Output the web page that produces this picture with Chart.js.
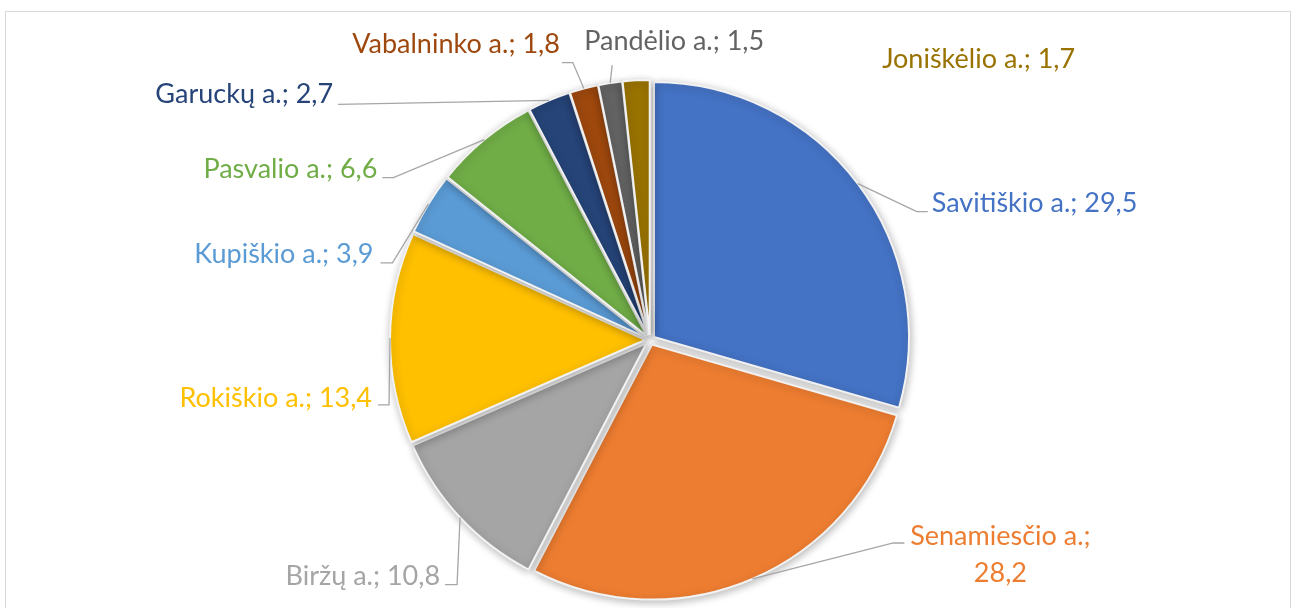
<!DOCTYPE html>
<html>
<head>
<meta charset="utf-8">
<script src="https://cdn.jsdelivr.net/npm/chart.js@4.4.1/dist/chart.umd.min.js"></script>
<style>
  html, body { margin: 0; padding: 0; background: #ffffff; overflow: hidden; }
  #wrap { position: relative; width: 1297px; height: 608px; overflow: hidden; }
  #frame { position: absolute; left: 5px; top: 11px; width: 1286px; height: 700px; border: 1px solid #d9d9d9; box-sizing: border-box; }
  canvas { position: absolute; left: 0; top: 0; }
</style>
</head>
<body>
<div id="wrap">
  <div id="frame"></div>
  <canvas id="c" width="1297" height="608"></canvas>
</div>
<script>
// ---- data ----
const categories = ["Savitiškio a.", "Senamiesčio a.", "Biržų a.", "Rokiškio a.", "Kupiškio a.",
                    "Pasvalio a.", "Garuckų a.", "Vabalninko a.", "Pandėlio a.", "Joniškėlio a."];
const shares = [29.5, 28.2, 10.8, 13.4, 3.9, 6.6, 2.7, 1.8, 1.5, 1.7];
const sliceColors = ["#4472C4", "#ED7D31", "#A5A5A5", "#FFC000", "#5B9BD5",
                     "#70AD47", "#264478", "#9E480E", "#636363", "#997300"];

// ---- style / layout ----
const EXPLODE = 5;      // px each slice is pulled out along its bisector
const RADIUS = 255;
// label offsets relative to the slice's outer-edge mid point
const labelLayout = [
  { leader: [[59, 28], [70, 28]],   align: "left",   tx: 74,   ty: 28,  split: false },
  { leader: [[141, -36], [152, -36]], align: "center", tx: 248, ty: -34, split: true },
  { leader: [[-3, 67], [-15, 67]],  align: "right",  tx: -20,  ty: 67,  split: false },
  { leader: [[-1, 67], [-12, 67]],  align: "right",  tx: -18,  ty: 69,  split: false },
  { leader: [[-36, 59], [-48, 59]], align: "right",  tx: -55,  ty: 59,  split: false },
  { leader: [[-91, 38], [-102, 38]], align: "right", tx: -107, ty: 38,  split: false },
  { leader: [[-211, 4]],            align: "right",  tx: -216, ty: 3,   split: false },
  { leader: [[-11, -26], [-22, -26]], align: "right", tx: -24, ty: -36, split: false },
  { leader: [[2, -18]],             align: "center", tx: 64,   ty: -33, split: false },
  { leader: [],                     align: "left",   tx: 246,  ty: -12, split: false }
];

const FONT = '27px Lato, "Open Sans", sans-serif';
const LINE_H = 37;

function fmt(v) { return v.toFixed(1).replace('.', ','); }

const pieDecor = {
  id: 'pieDecor',
  beforeDatasetsDraw(chart) {
    const ctx = chart.ctx;
    // explode every slice along its bisector (library still draws the arc)
    chart.getDatasetMeta(0).data.forEach(arc => {
      if (arc.__exploded) return;
      const orig = arc.draw;
      arc.draw = function (c, area) {
        const mid = (this.startAngle + this.endAngle) / 2;
        c.save();
        c.translate(Math.cos(mid) * EXPLODE, Math.sin(mid) * EXPLODE);
        orig.call(this, c, area);
        c.restore();
      };
      arc.__exploded = true;
    });
    ctx.save();
    ctx.shadowColor = 'rgba(0,0,0,0.28)';
    ctx.shadowBlur = 9;
    ctx.shadowOffsetX = 1;
    ctx.shadowOffsetY = 2;
  },
  afterDatasetsDraw(chart) {
    const ctx = chart.ctx;
    ctx.restore();
    const meta = chart.getDatasetMeta(0);
    const ds = chart.data.datasets[0];
    ctx.save();
    ctx.font = FONT;
    meta.data.forEach((arc, i) => {
      const p = arc.getProps(['x', 'y', 'startAngle', 'endAngle', 'outerRadius'], true);
      const mid = (p.startAngle + p.endAngle) / 2;
      const R = p.outerRadius + EXPLODE;
      const ex = p.x + Math.cos(mid) * R;
      const ey = p.y + Math.sin(mid) * R;
      const L = labelLayout[i];
      if (L.leader.length) {
        ctx.beginPath();
        ctx.moveTo(ex, ey);
        L.leader.forEach(([dx, dy]) => ctx.lineTo(ex + dx, ey + dy));
        ctx.strokeStyle = '#A6A6A6';
        ctx.lineWidth = 1.3;
        ctx.stroke();
      }
      const name = chart.data.labels[i];
      const val = fmt(ds.data[i]);
      const lines = L.split ? [name + ';', val] : [name + '; ' + val];
      ctx.fillStyle = sliceColors[i];
      ctx.textAlign = L.align;
      ctx.textBaseline = 'alphabetic';
      lines.forEach((t, k) => ctx.fillText(t, ex + L.tx, ey + L.ty + k * LINE_H));
    });
    ctx.restore();
  }
};

function draw() {
  new Chart(document.getElementById('c'), {
    type: 'pie',
    data: {
      labels: categories,
      datasets: [{
        data: shares,
        backgroundColor: sliceColors,
        borderColor: '#f2f2f2',
        borderWidth: 2,
        offset: 0,
        hoverOffset: 0,
        radius: RADIUS
      }]
    },
    options: {
      responsive: false,
      animation: false,
      layout: { padding: { left: 3, right: 0, top: 72, bottom: 0 } },
      plugins: { legend: { display: false }, tooltip: { enabled: false } },
      events: []
    },
    plugins: [pieDecor]
  });
}

if (document.fonts && document.fonts.load) {
  document.fonts.load(FONT).then(draw, draw);
} else {
  draw();
}
</script>
</body>
</html>
